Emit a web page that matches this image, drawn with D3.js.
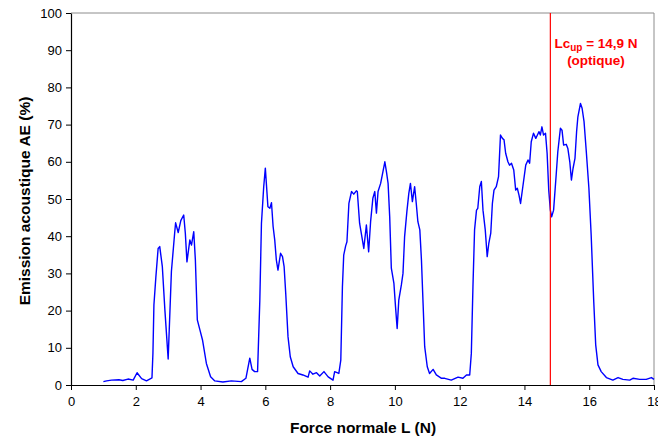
<!DOCTYPE html>
<html>
<head>
<meta charset="utf-8">
<script src="https://cdn.jsdelivr.net/npm/d3@7"></script>
<style>
  html, body { margin: 0; padding: 0; background: #fff; }
  svg { display: block; font-family: "Liberation Sans", Arial, sans-serif; }
</style>
</head>
<body>
<svg id="chart" width="658" height="441"></svg>
<script>
// ---- data ----
const forceN = [1.0,1.1,1.25,1.48,1.6,1.76,1.92,2.04,2.18,2.33,2.43,2.5,2.53,2.56,2.62,2.69,2.74,2.82,2.9,3.0,
3.1,3.2,3.23,3.31,3.39,3.48,3.53,3.58,3.67,3.72,3.79,3.84,3.9,3.98,4.06,4.18,4.31,4.44,4.69,4.95,
5.26,5.4,5.52,5.59,5.67,5.76,5.83,5.88,5.95,6.0,6.08,6.14,6.19,6.24,6.29,6.34,6.39,6.47,6.53,6.58,
6.63,6.7,6.77,6.86,7.01,7.16,7.32,7.37,7.47,7.58,7.68,7.81,7.94,8.09,8.14,8.27,8.33,8.38,8.42,8.48,
8.52,8.58,8.66,8.73,8.81,8.84,8.91,8.98,9.04,9.12,9.19,9.25,9.32,9.38,9.43,9.48,9.56,9.63,9.69,9.74,
9.79,9.84,9.89,9.97,10.02,10.07,10.12,10.2,10.25,10.3,10.37,10.43,10.48,10.54,10.61,10.66,10.71,10.77,10.82,10.87,
10.92,11.0,11.07,11.18,11.28,11.44,11.54,11.74,11.95,12.1,12.21,12.31,12.36,12.41,12.46,12.52,12.56,12.62,12.67,12.72,
12.79,12.85,12.9,12.96,13.01,13.06,13.13,13.2,13.26,13.32,13.37,13.42,13.49,13.54,13.6,13.67,13.73,13.78,13.83,13.88,
13.95,14.04,14.11,14.16,14.21,14.28,14.35,14.4,14.45,14.49,14.54,14.59,14.65,14.7,14.75,14.8,14.84,14.9,14.98,15.03,
15.11,15.16,15.21,15.29,15.34,15.4,15.45,15.5,15.56,15.61,15.65,15.73,15.78,15.84,15.91,15.99,16.06,16.14,16.2,16.27,
16.37,16.53,16.73,16.89,17.04,17.25,17.35,17.56,17.76,17.92,18.0];
const emissionAE = [0.9,1.1,1.3,1.4,1.2,1.6,1.3,3.3,1.7,1.1,1.6,1.9,8.6,21.5,29,36.7,37.2,31.8,20,7.0,
30.5,40.8,43.6,41,44.2,45.7,40.8,33.1,39,37.6,41.2,33.6,17.5,14.8,12.1,5.8,2.2,1.1,0.8,1.1,
0.9,1.8,7.2,4.2,3.6,3.6,22.8,43.5,53.3,58.3,47.9,47.5,49,42.6,39,33.6,30.9,35.4,34.5,31.8,
24.6,13,7.6,4.9,3.1,2.7,2.1,3.8,2.9,3.3,2.4,3.6,2.2,1.3,3.6,3.1,6.7,26.4,34.9,37.4,
38.5,48.8,52,51.3,52.2,52,43.5,39.9,36.7,43,35.8,43.9,50.2,52,46.2,52,54.2,57.3,60,57.3,
54.2,45.2,31.4,27.3,21,15.2,22.8,26.9,30,39.9,46.6,51.5,54.2,49.3,53.3,48.8,43.9,41.7,33.6,22,
10.3,4.9,3.1,4.2,2.7,1.8,1.8,1.3,2.1,1.8,2.7,2.7,8.5,26.4,41.7,47,47.5,53.3,54.7,47,
41.7,34.5,38.1,40.8,48.8,52.4,53.3,56,67.2,66.3,65.9,62.3,60,59.1,59.6,57.8,52.4,52.9,51.1,48.8,
53.3,59.1,60.5,59.6,65.4,67.7,66.3,67.2,68.1,67.2,69.4,67.2,67.7,62.3,52.4,47,45.2,47,56.5,62.7,
69,68.5,64.5,64.7,63.6,60,55.1,58.2,60.9,68.1,72.1,75.7,74.4,70.8,62.7,52.9,40.3,22.4,10.8,5.4,
3.6,2.0,1.3,2.0,1.5,1.3,1.8,1.5,1.5,2.0,1.5];
const xTicks = [0,2,4,6,8,10,12,14,16,18];
const yTicks = [0,10,20,30,40,50,60,70,80,90,100];
const criticalLoad = 14.8;
const xTitle = "Force normale L (N)";
const yTitle = "Emission acoustique AE (%)";

// ---- layout ----
const svg = d3.select("#chart");
const mLeft = 71, mRight = 654, mTop = 13, mBottom = 385;
const x = d3.scaleLinear().domain([0, 18]).range([mLeft, mRight]);
const y = d3.scaleLinear().domain([0, 100]).range([mBottom, mTop]);

// frame (top/right gray)
svg.append("line").attr("x1", mLeft).attr("x2", mRight).attr("y1", mTop).attr("y2", mTop)
  .attr("stroke", "#8c8c8c").attr("stroke-width", 1);
svg.append("line").attr("x1", mRight).attr("x2", mRight).attr("y1", mTop).attr("y2", mBottom)
  .attr("stroke", "#8c8c8c").attr("stroke-width", 1);

// axes
const xAxis = svg.append("g").attr("transform", `translate(0,${mBottom})`)
  .call(d3.axisBottom(x).tickValues(xTicks).tickSize(5).tickSizeOuter(0).tickPadding(7));
const yAxis = svg.append("g").attr("transform", `translate(${mLeft},0)`)
  .call(d3.axisLeft(y).tickValues(yTicks).tickSize(5).tickSizeOuter(0).tickPadding(4));
[xAxis, yAxis].forEach(g => {
  g.selectAll("path").attr("stroke", "#000").attr("stroke-width", 1.2);
  g.selectAll("line").attr("stroke", "#000").attr("stroke-width", 1);
  g.selectAll("text").attr("font-size", 13).attr("fill", "#000")
    .attr("font-family", "'Liberation Sans', Arial, sans-serif");
});

// curve
const line = d3.line().x((d, i) => x(forceN[i])).y(d => y(d));
svg.append("path").datum(emissionAE)
  .attr("d", line).attr("fill", "none").attr("stroke", "#0000ff").attr("stroke-width", 1.4)
  .attr("stroke-linejoin", "round");

// red critical load line
svg.append("line").attr("x1", x(criticalLoad)).attr("x2", x(criticalLoad))
  .attr("y1", mTop).attr("y2", mBottom).attr("stroke", "#ff0000").attr("stroke-width", 1.2);

const lab = svg.append("text").attr("x", 596).attr("y", 48).attr("text-anchor", "middle")
  .attr("fill", "#ff0000").attr("font-weight", "bold").attr("font-size", 13.5);
lab.append("tspan").text("Lc");
lab.append("tspan").attr("font-size", 10).attr("dy", 3).text("up");
lab.append("tspan").attr("dy", -3).text(" = 14,9 N");
svg.append("text").attr("x", 596).attr("y", 65).attr("text-anchor", "middle")
  .attr("fill", "#ff0000").attr("font-weight", "bold").attr("font-size", 13.5).text("(optique)");

// titles
svg.append("text").attr("x", 363).attr("y", 433).attr("text-anchor", "middle")
  .attr("font-weight", "bold").attr("font-size", 15.5).text(xTitle);
svg.append("text").attr("transform", "translate(30,201) rotate(-90)").attr("text-anchor", "middle")
  .attr("font-weight", "bold").attr("font-size", 15.5).text(yTitle);
</script>
</body>
</html>
